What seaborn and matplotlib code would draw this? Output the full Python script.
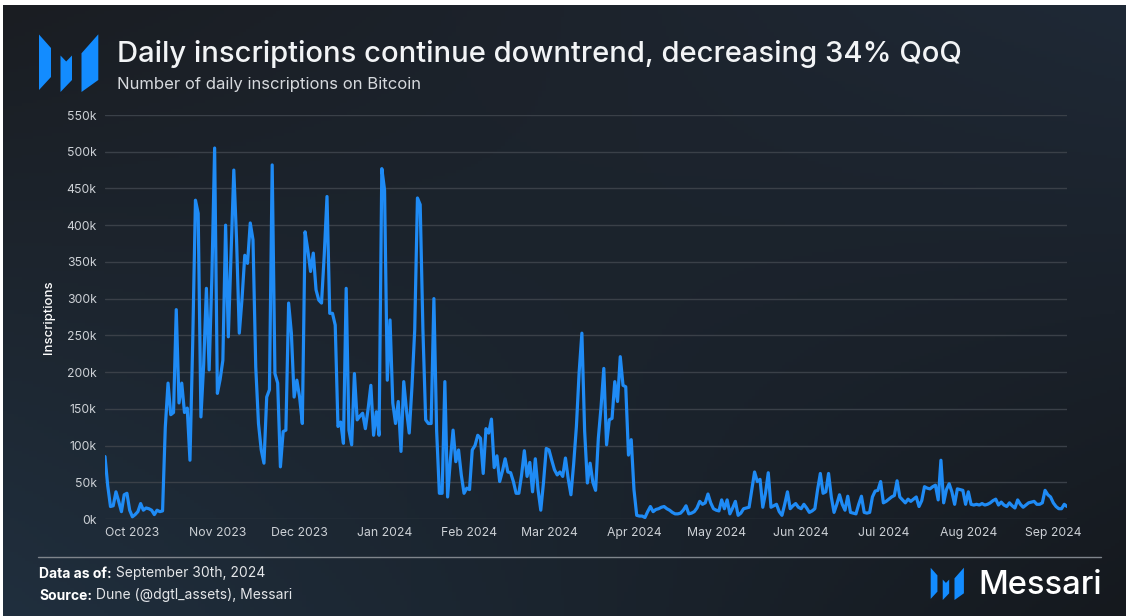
import numpy as np
import pandas as pd
import matplotlib.pyplot as plt
import matplotlib.dates as mdates
from matplotlib.patches import Polygon
import seaborn as sns

# daily inscriptions (thousands), starting 2023-09-21
start_date = "2023-09-21"
inscriptions_k = [
    85, 45, 17, 18, 37, 24, 10, 33, 35, 12,
    3, 6, 10, 21, 12, 15, 14, 12, 6, 12,
    10, 11, 125, 185, 142, 145, 285, 158, 185, 145,
    151, 80, 240, 434, 416, 139, 210, 314, 203, 330,
    505, 171, 190, 216, 400, 248, 360, 475, 380, 253,
    300, 359, 348, 403, 380, 207, 130, 94, 76, 166,
    176, 482, 198, 185, 71, 119, 121, 294, 253, 166,
    189, 166, 130, 391, 366, 337, 362, 312, 298, 294,
    360, 439, 280, 280, 264, 126, 132, 103, 314, 121,
    101, 198, 135, 140, 144, 123, 150, 182, 114, 146,
    114, 477, 448, 189, 271, 158, 130, 160, 92, 187,
    148, 117, 180, 257, 437, 428, 257, 135, 130, 130,
    300, 120, 35, 35, 187, 30, 80, 121, 78, 94,
    60, 35, 42, 40, 94, 100, 114, 110, 62, 123,
    117, 136, 70, 86, 51, 65, 82, 64, 63, 51,
    35, 35, 60, 93, 58, 77, 37, 82, 40, 12,
    50, 96, 94, 80, 67, 60, 64, 58, 83, 55,
    33, 75, 126, 200, 253, 120, 49, 76, 50, 39,
    110, 153, 205, 101, 135, 137, 187, 160, 221, 182,
    180, 87, 108, 40, 5, 4, 4, 2, 10, 17,
    10, 13, 14, 16, 17, 14, 12, 9, 7, 7,
    8, 12, 18, 7, 8, 10, 15, 24, 20, 22,
    34, 22, 14, 12, 11, 26, 14, 26, 7, 15,
    24, 5, 8, 14, 15, 16, 40, 64, 51, 54,
    16, 35, 63, 16, 18, 20, 10, 5, 20, 37,
    14, 18, 21, 16, 14, 20, 15, 9, 11, 14,
    40, 62, 35, 37, 62, 30, 9, 20, 33, 20,
    12, 31, 9, 8, 7, 20, 31, 9, 8, 9,
    30, 38, 39, 51, 22, 24, 27, 30, 32, 52,
    30, 26, 22, 27, 24, 27, 30, 17, 25, 44,
    42, 41, 44, 46, 26, 80, 22, 40, 48, 37,
    20, 41, 40, 39, 20, 37, 20, 19, 20, 19,
    21, 19, 20, 22, 25, 27, 19, 23, 19, 17,
    22, 18, 15, 26, 20, 16, 19, 22, 23, 24,
    20, 20, 22, 39, 33, 30, 22, 17, 14, 14,
    20, 17,
]
y_ticks_k = [0, 50, 100, 150, 200, 250, 300, 350, 400, 450, 500, 550]

title = "Daily inscriptions continue downtrend, decreasing 34% QoQ"
subtitle = "Number of daily inscriptions on Bitcoin"

W, H = 1126, 616
LINE_BLUE = "#1f8bf5"
LOGO_BLUE = "#138cff"

df = pd.DataFrame({
    "date": pd.date_range(start_date, periods=len(inscriptions_k), freq="D"),
    "inscriptions": np.array(inscriptions_k) * 1000,
})

sns.set_theme(style="dark")
plt.rcParams["font.family"] = ["Inter", "DejaVu Sans"]


def fx(px):
    return px / W


def fy(py):
    return 1 - py / H


fig = plt.figure(figsize=(W / 100, H / 100), dpi=100, facecolor="white")

# gradient backdrop (white strip top/left like the screenshot)
bg = fig.add_axes([fx(3), 0, 1 - fx(3), fy(5)], zorder=0)
corners = np.array([[[26, 29, 34], [31, 41, 54]],
                    [[32, 47, 62], [21, 25, 30]]]) / 255.0
gy, gx = np.mgrid[0:1:200j, 0:1:300j]
grad = ((1 - gy)[..., None] * ((1 - gx)[..., None] * corners[0, 0] + gx[..., None] * corners[0, 1])
        + gy[..., None] * ((1 - gx)[..., None] * corners[1, 0] + gx[..., None] * corners[1, 1]))
bg.imshow(grad, aspect="auto", extent=[0, 1, 0, 1])
bg.axis("off")

ax = fig.add_axes([fx(105), fy(519), fx(1067) - fx(105), fy(115) - fy(519)], zorder=2)
ax.set_facecolor("none")
sns.lineplot(data=df, x="date", y="inscriptions", color=LINE_BLUE, linewidth=2.3, ax=ax)

ax.set_xlim(df["date"].iloc[0], df["date"].iloc[-1])
ax.set_ylim(0, 550000)
ax.set_yticks([v * 1000 for v in y_ticks_k])
ax.set_yticklabels([f"{v}k" for v in y_ticks_k])
ax.xaxis.set_major_locator(mdates.MonthLocator())
ax.xaxis.set_major_formatter(mdates.DateFormatter("%b %Y"))
ax.tick_params(axis="both", length=0, colors="#cdd1d6", labelsize=8.8)
ax.tick_params(axis="y", pad=6)
ax.tick_params(axis="x", pad=6)
ax.yaxis.grid(True, color="#3a4048", linewidth=1)
ax.xaxis.grid(False)
for s in ax.spines.values():
    s.set_visible(False)
ax.set_xlabel("")
ax.set_ylabel("Inscriptions", color="white", fontsize=9.5, fontweight="medium", labelpad=8)

# Messari logo
logo_pieces = [
    [(39, 34.5), (51, 48), (51, 77), (39, 90)],
    [(60.5, 55.5), (66.2, 61.5), (72, 55.5), (72, 80), (60.5, 92)],
    [(81.5, 53.3), (98.3, 34.3), (98.3, 80), (81.5, 92)],
]


def draw_logo(x0, y0, scale):
    for piece in logo_pieces:
        pts = [(fx(x0 + (px - 39) * scale), fy(y0 + (py - 34.3) * scale)) for px, py in piece]
        fig.patches.append(Polygon(pts, closed=True, transform=fig.transFigure,
                                   facecolor=LOGO_BLUE, edgecolor="none", zorder=3))


draw_logo(39, 34.3, 1.0)
draw_logo(930.7, 567.7, 0.56)

fig.text(fx(117), fy(62.5), title, color="#f2f4f6", fontsize=21, fontweight="medium", va="baseline")
fig.text(fx(117), fy(88.5), subtitle, color="#d6d9dd", fontsize=12, va="baseline")

# footer
fig.add_artist(plt.Line2D([fx(38), fx(1101)], [fy(557), fy(557)], transform=fig.transFigure,
                          color="#7f858c", linewidth=1))
fig.canvas.draw()
renderer = fig.canvas.get_renderer()
for label, rest, yb in [("Data as of:", " September 30th, 2024", 577.5),
                        ("Source:", " Dune (@dgtl_assets), Messari", 599.5)]:
    t = fig.text(fx(39), fy(yb), label, color="white", fontsize=10, fontweight="bold", va="baseline")
    bb = t.get_window_extent(renderer)
    fig.text(bb.x1 / fig.bbox.width, fy(yb), rest, color="#e4e6e9", fontsize=10, va="baseline")

fig.text(fx(978), fy(594.5), "Messari", color="white", fontsize=23.5, fontweight="medium", va="baseline")

fig.savefig("out.png", dpi=100, facecolor=fig.get_facecolor())
